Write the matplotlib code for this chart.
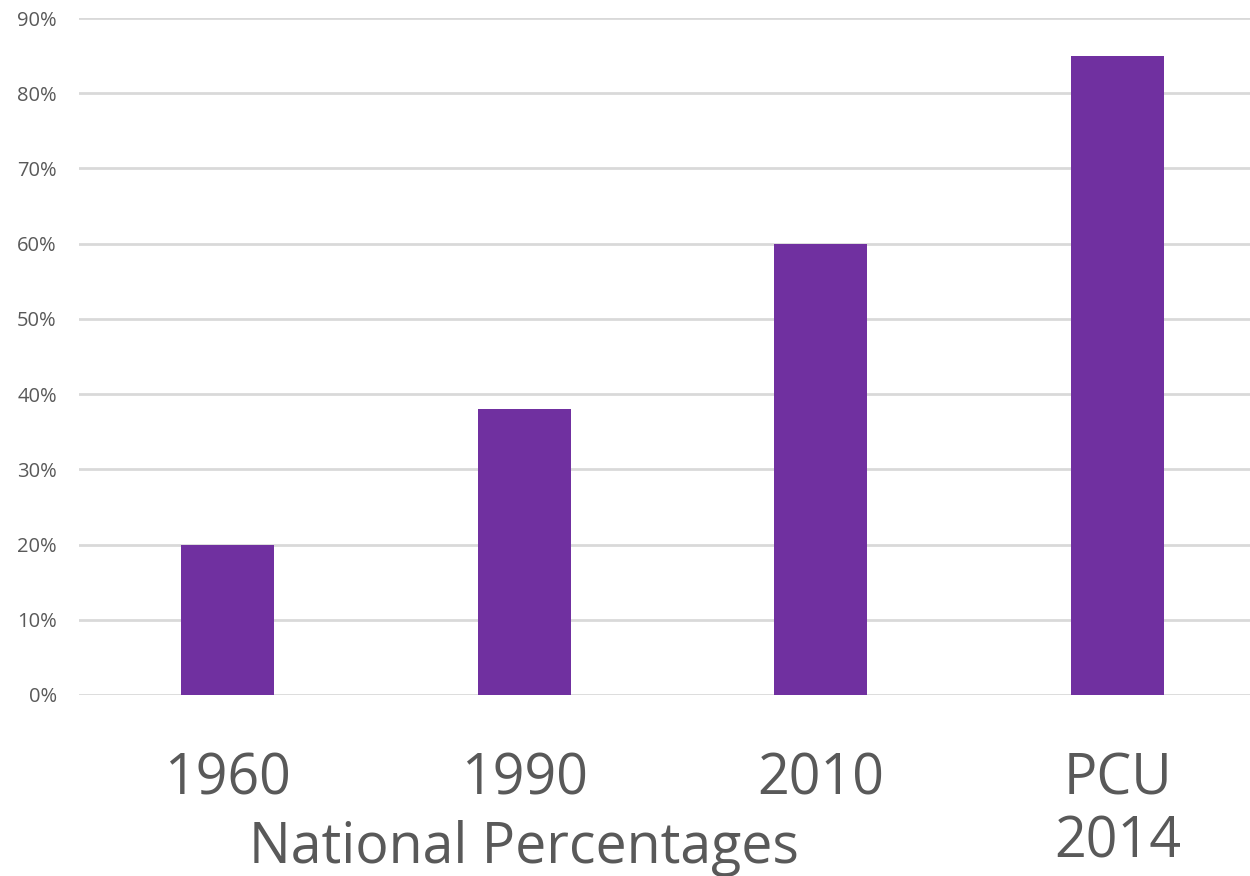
import numpy as np
import matplotlib.pyplot as plt
from matplotlib.ticker import PercentFormatter

categories = ["1960", "1990", "2010", "PCU\n2014"]
values = [20, 38, 60, 85]
y_ticks = [0, 10, 20, 30, 40, 50, 60, 70, 80, 90]
group_label = "National Percentages"

PURPLE = "#7030A0"
GREY = "#595959"

plt.rcParams['font.family'] = ['Open Sans', 'DejaVu Sans']

fig = plt.figure(figsize=(12.5, 8.76), dpi=100)
# axes run off the right edge, as in the cropped original
ax = fig.add_axes([79/1250, 1 - 695/876, 1187/1250, (695 - 18)/876])

x = np.arange(len(categories))
ax.bar(x, values, width=0.314, color=PURPLE, zorder=3)

ax.set_xlim(-0.5, 3.5)
ax.set_ylim(0, 90)
ax.set_yticks(y_ticks)
ax.yaxis.set_major_formatter(PercentFormatter(decimals=0))
ax.grid(axis='y', color='#d9d9d9', linewidth=2, zorder=0)
ax.set_xticks(x)
ax.set_xticklabels(categories, fontsize=40, color=GREY, linespacing=1.12)
ax.tick_params(axis='x', length=0, pad=41)
ax.tick_params(axis='y', length=0, labelsize=14.5, labelcolor=GREY, pad=16)
for s in ax.spines.values():
    s.set_visible(False)

ax.text(1, -0.185, group_label, transform=ax.get_xaxis_transform(),
        ha='center', va='top', fontsize=40, color=GREY)

fig.savefig("out.png", dpi=100)
